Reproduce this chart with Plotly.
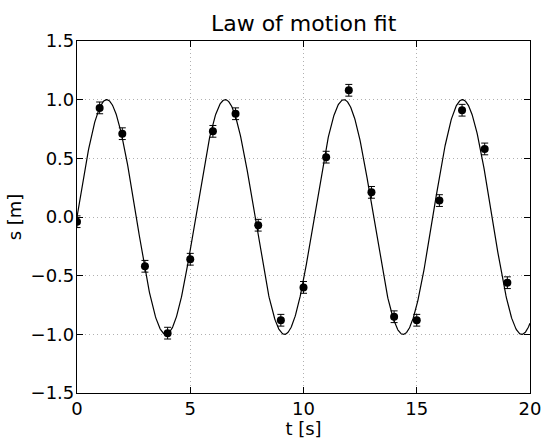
import numpy as np
import plotly.graph_objects as go

# measured data
t_data = [0, 1, 2, 3, 4, 5, 6, 7, 8, 9, 10, 11, 12, 13, 14, 15, 16, 17, 18, 19]
s_data = [-0.04, 0.93, 0.71, -0.42, -0.99, -0.36, 0.73, 0.88, -0.07, -0.88,
          -0.60, 0.51, 1.08, 0.21, -0.85, -0.88, 0.14, 0.91, 0.58, -0.56]
s_err = [0.05] * 20

# fitted law of motion s(t) = A sin(omega t)
fit_amplitude = 1.0
fit_omega = 1.2
t_fit = np.linspace(0, 20, 1000)
s_fit = fit_amplitude * np.sin(fit_omega * t_fit)

FONT = "DejaVu Sans"

fig = go.Figure()
fig.add_trace(go.Scatter(x=t_fit, y=s_fit, mode="lines",
                         line=dict(color="black", width=1.2), showlegend=False,
                         hoverinfo="skip"))
fig.add_trace(go.Scatter(x=t_data, y=s_data, mode="markers",
                         marker=dict(color="black", size=8),
                         error_y=dict(type="data", array=s_err, visible=True,
                                      color="black", thickness=1, width=3.5),
                         showlegend=False))

axis_common = dict(
    showline=True, linecolor="black", linewidth=1.2, mirror="allticks",
    ticks="inside", ticklen=6, tickcolor="black", automargin=False,
    showgrid=True, gridcolor="#b0b0b0", griddash="1px,3px", gridwidth=1,
    zeroline=False, tickfont=dict(family=FONT, size=18, color="black"),
)

fig.update_layout(
    width=546, height=439,
    margin=dict(l=77, r=16, t=41, b=46),
    paper_bgcolor="white", plot_bgcolor="white",
    title=dict(text="Law of motion fit", x=0.5561, xanchor="center",
               y=0.946, yanchor="middle",
               font=dict(family=FONT, size=22, color="black")),
    xaxis=dict(range=[0, 20], dtick=5, tick0=0, ticklabelstandoff=-1,
               title=dict(text="t [s]", standoff=2,
                          font=dict(family=FONT, size=18, color="black")),
               **axis_common),
    yaxis=dict(range=[-1.5, 1.5], dtick=0.5, tick0=-1.5, tickformat=".1f",
               ticklabelstandoff=-2,
               title=dict(text="s [m]", standoff=4,
                          font=dict(family=FONT, size=18, color="black")),
               **axis_common),
)

fig.write_html("out.html")
